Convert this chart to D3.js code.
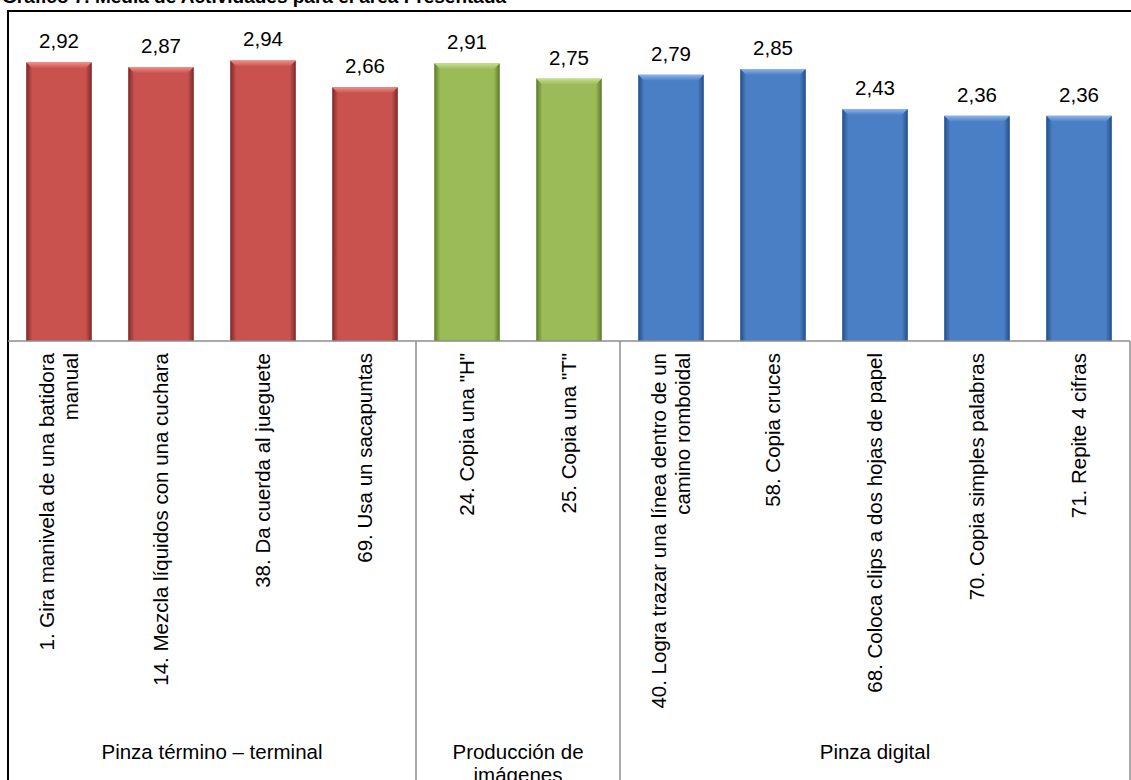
<!DOCTYPE html>
<html>
<head>
<meta charset="utf-8">
<script src="https://cdn.jsdelivr.net/npm/d3@7/dist/d3.min.js"></script>
<style>
  html, body { margin: 0; padding: 0; background: #fff; overflow: hidden; }
  svg { display: block; font-family: Arial, "Liberation Sans", sans-serif; }
</style>
</head>
<body>
<svg id="chart" width="1131" height="780"></svg>
<script>
const titleText = "Gráfico 7. Media de Actividades para el área Presentada";
const categories = [
  "1. Gira manivela de una batidora manual",
  "14. Mezcla líquidos con una cuchara",
  "38. Da cuerda al jueguete",
  "69. Usa un sacapuntas",
  "24. Copia una \"H\"",
  "25. Copia una \"T\"",
  "40. Logra trazar una línea dentro de un camino romboidal",
  "58. Copia cruces",
  "68. Coloca clips a dos hojas de papel",
  "70. Copia simples palabras",
  "71. Repite 4 cifras"
];
const categoryLines = [
  ["1. Gira manivela de una batidora", "manual"],
  ["14. Mezcla líquidos con una cuchara"],
  ["38. Da cuerda al jueguete"],
  ["69. Usa un sacapuntas"],
  ["24. Copia una \"H\""],
  ["25. Copia una \"T\""],
  ["40. Logra trazar una línea dentro de un", "camino romboidal"],
  ["58. Copia cruces"],
  ["68. Coloca clips a dos hojas de papel"],
  ["70. Copia simples palabras"],
  ["71. Repite 4 cifras"]
];
const values = [2.92, 2.87, 2.94, 2.66, 2.91, 2.75, 2.79, 2.85, 2.43, 2.36, 2.36];
const groupNames = [["Pinza término – terminal"], ["Producción de", "imágenes"], ["Pinza digital"]];
const groupSizes = [4, 2, 5];
const groupOfCategory = [0, 0, 0, 0, 1, 1, 2, 2, 2, 2, 2];
const groupColors = [
  { base: "#C9524F", light: "#EE8F8C", dark: "#7A2A28" },
  { base: "#9BBB59", light: "#C8DF8F", dark: "#5E7A2A" },
  { base: "#4A7FC6", light: "#8DB4EC", dark: "#244F86" }
];

const svg = d3.select("#chart");
const W = 1131, H = 780;
const plotLeft = 8, plotRight = 1130, baseY = 341, plotTop = 7;

const x = d3.scaleBand().domain(categories).range([plotLeft, plotRight]).padding(0);
const y = d3.scaleLinear().domain([0, 3.5]).range([baseY, plotTop]);

// Title (clipped at top, as in the reference)
svg.append("text").attr("x", 2).attr("y", 3)
  .attr("font-size", 19).attr("font-weight", "bold").attr("fill", "#000")
  .text(titleText);

// Outer border
svg.append("rect").attr("x", plotLeft).attr("y", 11)
  .attr("width", 1300).attr("height", 1000)
  .attr("fill", "none").attr("stroke", "#000").attr("stroke-width", 2);

// Gradients for bevel
const defs = svg.append("defs");
groupColors.forEach((col, gi) => {
  const gl = defs.append("linearGradient").attr("id", "lt" + gi).attr("x1", 0).attr("y1", 0).attr("x2", 0).attr("y2", 1);
  gl.append("stop").attr("offset", "0%").attr("stop-color", col.light);
  gl.append("stop").attr("offset", "100%").attr("stop-color", col.base);
  const gs = defs.append("linearGradient").attr("id", "sd" + gi).attr("x1", 0).attr("y1", 0).attr("x2", 1).attr("y2", 0);
  gs.append("stop").attr("offset", "0%").attr("stop-color", col.dark);
  gs.append("stop").attr("offset", "100%").attr("stop-color", col.base);
  const gr = defs.append("linearGradient").attr("id", "sr" + gi).attr("x1", 0).attr("y1", 0).attr("x2", 1).attr("y2", 0);
  gr.append("stop").attr("offset", "0%").attr("stop-color", col.base);
  gr.append("stop").attr("offset", "100%").attr("stop-color", col.dark);
});

// Bars with bevel
const barFrac = 0.64;
const bev = 6;
const bars = svg.append("g");
categories.forEach((c, i) => {
  const gi = groupOfCategory[i];
  const col = groupColors[gi];
  const bw = x.bandwidth() * barFrac;
  const x0 = x(c) + (x.bandwidth() - bw) / 2, x1 = x0 + bw;
  const y0 = y(values[i]), y1 = y(0);
  const g = bars.append("g");
  g.append("rect").attr("x", x0).attr("y", y0).attr("width", bw).attr("height", y1 - y0).attr("fill", col.base);
  g.append("polygon").attr("points", [[x0, y0], [x0 + bev, y0 + bev], [x0 + bev, y1], [x0, y1]].join(" "))
    .attr("fill", `url(#sd${gi})`);
  g.append("polygon").attr("points", [[x1, y0], [x1 - bev, y0 + bev], [x1 - bev, y1], [x1, y1]].join(" "))
    .attr("fill", `url(#sr${gi})`);
  g.append("polygon").attr("points", [[x0, y0], [x1, y0], [x1 - bev, y0 + bev], [x0 + bev, y0 + bev]].join(" "))
    .attr("fill", `url(#lt${gi})`);
  g.append("text").attr("x", (x0 + x1) / 2).attr("y", y0 - 14)
    .attr("text-anchor", "middle").attr("font-size", 20.5).attr("fill", "#000")
    .text(values[i].toFixed(2).replace(".", ","));
});

// Axis lines
const axisColor = "#8C8C8C";
svg.append("line").attr("x1", plotLeft).attr("x2", plotRight).attr("y1", baseY).attr("y2", baseY)
  .attr("stroke", axisColor).attr("stroke-width", 1.5);
let idx = 0;
const groupBounds = [];
groupSizes.forEach((n) => {
  const start = x(categories[idx]);
  const end = x(categories[idx + n - 1]) + x.bandwidth();
  groupBounds.push([start, end]);
  idx += n;
});
groupBounds.forEach(([s, e]) => {
  svg.append("line").attr("x1", e).attr("x2", e).attr("y1", baseY).attr("y2", H + 5)
    .attr("stroke", axisColor).attr("stroke-width", 1.5);
});

// Category labels (rotated)
const catFont = 20.5, lineH = 24;
categories.forEach((c, i) => {
  const cx = x(c) + x.bandwidth() / 2;
  const lines = categoryLines[i];
  const g = svg.append("g").attr("transform", `translate(${cx},${baseY + 12}) rotate(-90)`);
  const t = g.append("text").attr("text-anchor", "end").attr("font-size", catFont).attr("fill", "#000");
  lines.forEach((ln, j) => {
    t.append("tspan").attr("x", 0).attr("y", (j - (lines.length - 1) / 2) * lineH).attr("dy", "0.35em").text(ln);
  });
});

// Group labels
groupNames.forEach((lines, gi) => {
  const [s, e] = groupBounds[gi];
  const t = svg.append("text").attr("text-anchor", "middle").attr("font-size", 20.5).attr("fill", "#000");
  lines.forEach((ln, j) => {
    t.append("tspan").attr("x", (s + e) / 2).attr("y", 759 + j * 23).text(ln);
  });
});
</script>
</body>
</html>
